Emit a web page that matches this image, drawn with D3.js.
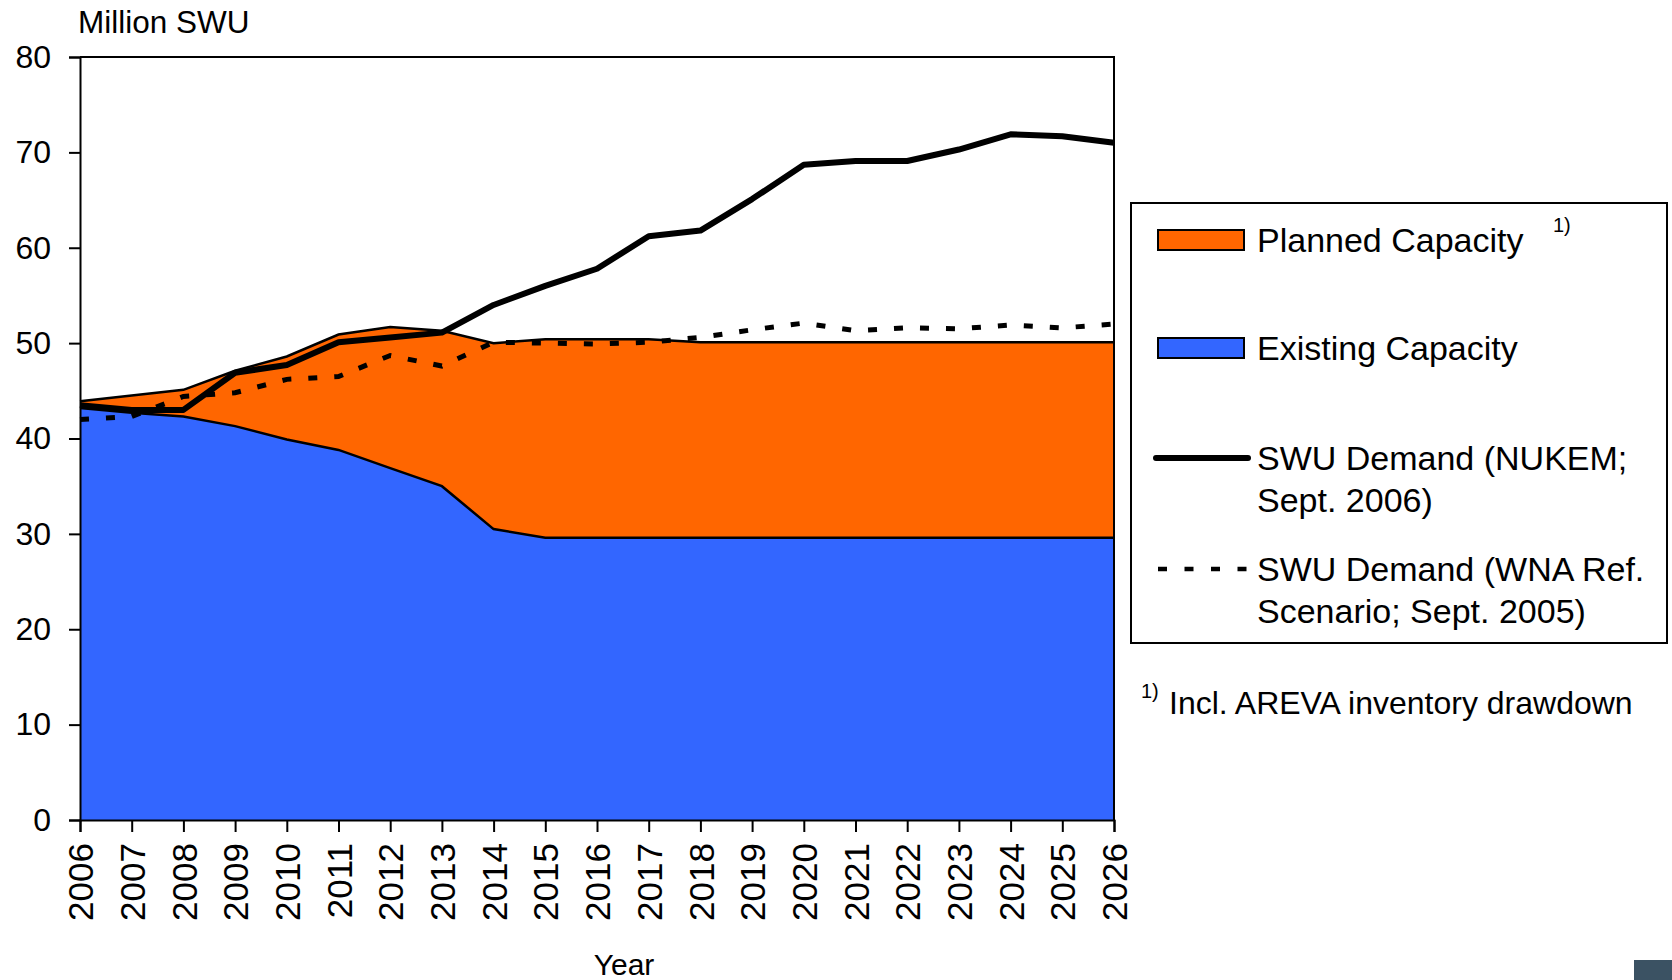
<!DOCTYPE html>
<html>
<head>
<meta charset="utf-8">
<script src="https://cdn.jsdelivr.net/npm/d3@7"></script>
<style>
  body { margin: 0; background: #fff; }
  svg { display: block; font-family: "Liberation Sans", Arial, sans-serif; }
</style>
</head>
<body>
<main></main>
<script>
//SWU supply vs demand, stacked areas + demand lines

const years = d3.range(2006, 2027);
const existingCapacity = [43.2, 42.7, 42.3, 41.3, 39.9, 38.8, 36.9, 35.0, 30.5, 29.6, 29.6, 29.6, 29.6, 29.6, 29.6, 29.6, 29.6, 29.6, 29.6, 29.6, 29.6];
const plannedCapacity = [0.7, 1.8, 2.8, 5.8, 8.7, 12.1, 14.8, 16.3, 19.5, 20.8, 20.8, 20.8, 20.5, 20.5, 20.5, 20.5, 20.5, 20.5, 20.5, 20.5, 20.5];
const demandNukem = [43.5, 43.0, 43.0, 46.9, 47.7, 50.1, 50.6, 51.1, 54.0, 56.0, 57.8, 61.2, 61.8, 65.1, 68.7, 69.1, 69.1, 70.3, 71.9, 71.7, 71.0];
const demandWna = [42.0, 42.3, 44.4, 44.8, 46.2, 46.5, 48.7, 47.6, 50.1, 50.0, 49.9, 50.1, 50.6, 51.4, 52.1, 51.3, 51.6, 51.5, 51.9, 51.6, 52.0];
const yTicks = [0, 10, 20, 30, 40, 50, 60, 70, 80];

const legendItems = [
  { type: "rect", color: "#FF6600", lines: ["Planned Capacity"] },
  { type: "rect", color: "#3366FF", lines: ["Existing Capacity"] },
  { type: "line", lines: ["SWU Demand (NUKEM;", "Sept. 2006)"] },
  { type: "dash", lines: ["SWU Demand (WNA Ref.", "Scenario; Sept. 2005)"] }
];

//Parameters
const w = 1672;
const h = 980;
const plot = { left: 80, right: 1114, top: 57, bottom: 820 };

const svg = d3.select("main")
  .append("svg")
  .attr("width", w)
  .attr("height", h);

//scales
const x = d3.scaleLinear().domain([2006, 2026]).range([plot.left, plot.right]);
const y = d3.scaleLinear().domain([0, 80]).range([plot.bottom, plot.top]);

//stacked data
const table = years.map((yr, i) => ({ year: yr, existing: existingCapacity[i], planned: plannedCapacity[i] }));
const stack = d3.stack().keys(["existing", "planned"])(table);
const colors = { existing: "#3366FF", planned: "#FF6600" };

const area = d3.area()
  .x(d => x(d.data.year))
  .y0(d => y(d[0]))
  .y1(d => y(d[1]));

svg.selectAll(".layer")
  .data(stack)
  .enter()
  .append("path")
  .attr("class", "layer")
  .attr("d", area)
  .attr("fill", d => colors[d.key]);

//outline on the top of each layer
const topLine = d3.line()
  .x(d => x(d.data.year))
  .y(d => y(d[1]));

svg.selectAll(".layer-top")
  .data(stack)
  .enter()
  .append("path")
  .attr("class", "layer-top")
  .attr("d", topLine)
  .attr("fill", "none")
  .attr("stroke", "#000")
  .attr("stroke-width", 2.5);

//demand lines
const line = d3.line()
  .x((d, i) => x(years[i]))
  .y(d => y(d));

svg.append("path")
  .attr("d", line(demandWna))
  .attr("fill", "none")
  .attr("stroke", "#000")
  .attr("stroke-width", 5)
  .attr("stroke-dasharray", "9,17");

svg.append("path")
  .attr("d", line(demandNukem))
  .attr("fill", "none")
  .attr("stroke", "#000")
  .attr("stroke-width", 6)
  .attr("stroke-linejoin", "round");

//frame top and right
svg.append("path")
  .attr("d", "M" + plot.left + "," + plot.top + "H" + plot.right + "V" + plot.bottom)
  .attr("fill", "none")
  .attr("stroke", "#000")
  .attr("stroke-width", 2);

//y axis
const yAxis = svg.append("g")
  .attr("transform", "translate(" + plot.left + ",0)")
  .call(d3.axisLeft(y).tickValues(yTicks).tickSize(11).tickPadding(18));
yAxis.select(".domain").attr("stroke-width", 2);
yAxis.selectAll(".tick line").attr("stroke-width", 2);
yAxis.selectAll("text")
  .attr("font-size", 32)
  .attr("font-family", "Liberation Sans, Arial, sans-serif")
  .attr("fill", "#000");

//x axis
const xAxis = svg.append("g")
  .attr("transform", "translate(0," + plot.bottom + ")")
  .call(d3.axisBottom(x).tickValues(years).tickSize(12).tickFormat(d3.format("d")));
xAxis.select(".domain").attr("stroke-width", 2);
xAxis.selectAll(".tick line").attr("stroke-width", 2);
xAxis.selectAll("text")
  .attr("font-size", 35)
  .attr("font-family", "Liberation Sans, Arial, sans-serif")
  .attr("fill", "#000")
  .attr("text-anchor", "end")
  .attr("transform", "rotate(-90)")
  .attr("x", -23)
  .attr("y", 0)
  .attr("dy", "0.36em");

//axis titles
svg.append("text")
  .attr("x", 78)
  .attr("y", 33)
  .attr("font-size", 31.5)
  .text("Million SWU");

svg.append("text")
  .attr("x", 624)
  .attr("y", 975)
  .attr("text-anchor", "middle")
  .attr("font-size", 30)
  .text("Year");

//Legend
const legend = svg.append("g").attr("id", "legend");
legend.append("rect")
  .attr("x", 1131)
  .attr("y", 203)
  .attr("width", 536)
  .attr("height", 440)
  .attr("fill", "#fff")
  .attr("stroke", "#000")
  .attr("stroke-width", 2);

const legendY = [240, 348, 458, 569];
const items = legend.selectAll(".legend-group")
  .data(legendItems)
  .enter()
  .append("g")
  .attr("class", "legend-group")
  .attr("transform", (d, i) => "translate(0," + legendY[i] + ")");

items.filter(d => d.type === "rect")
  .append("rect")
  .attr("x", 1158)
  .attr("y", -10)
  .attr("width", 86)
  .attr("height", 20)
  .attr("fill", d => d.color)
  .attr("stroke", "#000")
  .attr("stroke-width", 2);

items.filter(d => d.type !== "rect")
  .append("line")
  .attr("x1", d => d.type === "dash" ? 1158 : 1156)
  .attr("x2", 1248)
  .attr("stroke", "#000")
  .attr("stroke-width", d => d.type === "dash" ? 4.5 : 6)
  .attr("stroke-linecap", d => d.type === "dash" ? "butt" : "round")
  .attr("stroke-dasharray", d => d.type === "dash" ? "9,17.5" : null);

items.append("text")
  .attr("font-size", 34)
  .selectAll("tspan")
  .data(d => d.lines)
  .enter()
  .append("tspan")
  .attr("x", 1257)
  .attr("y", (d, i) => 12 + i * 42)
  .text(d => d);

legend.append("text")
  .attr("x", 1553)
  .attr("y", 232)
  .attr("font-size", 20)
  .text("1)");

//footnote
svg.append("text")
  .attr("x", 1141)
  .attr("y", 698)
  .attr("font-size", 20)
  .text("1)");
svg.append("text")
  .attr("x", 1169)
  .attr("y", 714)
  .attr("font-size", 32)
  .text("Incl. AREVA inventory drawdown");

//corner mark
svg.append("rect")
  .attr("x", 1634)
  .attr("y", 960)
  .attr("width", 38)
  .attr("height", 20)
  .attr("fill", "#3b5263");
</script>
</body>
</html>
